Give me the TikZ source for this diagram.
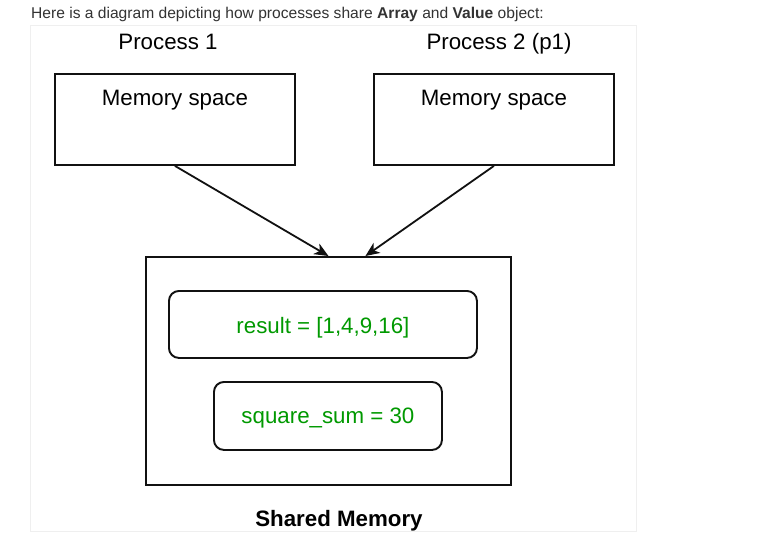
\documentclass[tikz,border=0pt]{standalone}
\usepackage{fontspec}
\setmainfont{Liberation Sans}
\usetikzlibrary{arrows.meta,calc}
\definecolor{hdr}{HTML}{333333}
\definecolor{panelb}{HTML}{EFEFEF}
\definecolor{valgreen}{HTML}{009900}
\definecolor{boxline}{HTML}{111111}
\begin{document}
\begin{tikzpicture}[x=1pt,y=-1pt,
  membox/.style={draw=boxline,line width=1.9pt,minimum width=240pt,minimum height=91pt,inner sep=0pt},
  sharedbox/.style={draw=boxline,line width=1.9pt,minimum width=365pt,minimum height=228pt,inner sep=0pt},
  valbox/.style={draw=boxline,line width=1.9pt,rounded corners=10pt,inner sep=0pt},
  bigtext/.style={font=\fontsize{22.3}{26}\selectfont,inner sep=0pt},
  valtext/.style={font=\fontsize{22.3}{26}\selectfont,text=valgreen,inner sep=0pt},
  conn/.style={line width=1.8pt,draw=boxline,-{Stealth[length=14pt,width=12pt,inset=4pt]}}
]
\useasboundingbox (0,0) rectangle (758,547);
\fill[white] (0,0) rectangle (758,547);
% header
\node[anchor=base west,inner sep=0pt,text=hdr,font=\fontsize{15.6}{18}\selectfont] (header) at (31,18)
  {Here is a diagram depicting how processes share \textbf{Array} and \textbf{Value} object:};
% panel
\node[draw=panelb,line width=1pt,minimum width=606pt,minimum height=506pt,inner sep=0pt,anchor=north west] (panel) at (30,25) {};
% process titles
\node[bigtext,anchor=base] (p1) at (168,49) {Process 1};
\node[bigtext,anchor=base] (p2) at (499,49) {Process 2 (p1)};
% memory boxes
\node[membox,anchor=north west] (box1) at (54,73) {};
\node[membox,anchor=north west] (box2) at (373,73) {};
\node[bigtext,anchor=base] (m1) at ($(box1.north)+(0,32)$) {Memory space};
\node[bigtext,anchor=base] (m2) at ($(box2.north)+(0,32)$) {Memory space};
% shared memory
\node[sharedbox,anchor=north west] (shared) at (145,256) {};
\coordinate (in2) at ($(shared.north)+(37,0)$);
\node[valbox,anchor=north west,minimum width=308pt,minimum height=67pt] (res) at (168,290) {};
\node[valtext] (restext) at ($(res.center)+(0,3)$) {result = [1,4,9,16]};
\node[valbox,anchor=north west,minimum width=228pt,minimum height=68pt] (sq) at (213,381) {};
\node[valtext] (sqtext) at ($(sq.center)+(0,2)$) {square\_sum = 30};
\node[anchor=base,inner sep=0pt,font=\fontsize{22.3}{26}\selectfont\bfseries] (smlabel) at (339,526) {Shared Memory};
% connectors
\draw[conn] (box1.south) -- (shared.north);
\draw[conn] (box2.south) -- (in2);
\end{tikzpicture}
\end{document}
